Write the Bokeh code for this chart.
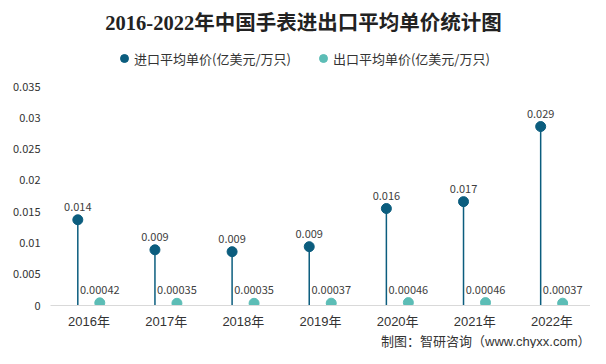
from bokeh.plotting import figure
from bokeh.models import (ColumnDataSource, LabelSet, Label, Legend, LegendItem, Title,
                          Range1d, FactorRange, FixedTicker)
from bokeh.transform import dodge
from bokeh.core.properties import value
from bokeh.embed import file_html
from bokeh.resources import INLINE

# ---- data ----
years = ["2016年", "2017年", "2018年", "2019年", "2020年", "2021年", "2022年"]
import_price = [0.0137, 0.0089, 0.0086, 0.0094, 0.0155, 0.0166, 0.0286]
import_labels = ["0.014", "0.009", "0.009", "0.009", "0.016", "0.017", "0.029"]
export_price = [0.00042, 0.00035, 0.00035, 0.00037, 0.00046, 0.00046, 0.00037]
export_labels = ["0.00042", "0.00035", "0.00035", "0.00037", "0.00046", "0.00046", "0.00037"]
y_ticks = [0, 0.005, 0.01, 0.015, 0.02, 0.025, 0.03, 0.035]
y_tick_labels = ["0", "0.005", "0.01", "0.015", "0.02", "0.025", "0.03", "0.035"]
series_names = ["进口平均单价(亿美元/万只)", "出口平均单价(亿美元/万只)"]
title_text = "2016-2022年中国手表进出口平均单价统计图"
source_text = "制图：智研咨询（www.chyxx.com）"

IMP_COLOR = "#0B5D7E"
EXP_COLOR = "#5CBDB6"
TEXT_COLOR = "#333333"
FONT = "Noto Sans CJK SC"
COMPACT_FONT = "Liberation Sans, Noto Sans CJK SC"

src = ColumnDataSource(dict(year=years, imp=import_price, imp_lbl=import_labels,
                            exp=export_price, exp_lbl=export_labels,
                            zero=[0] * len(years)))

W, H = 590, 348
FRAME_TOP_GAP = 86          # px between figure top and the 0.035 tick
PX = 219.0 / 0.035          # px per unit on the y axis
y_top = 0.035 + FRAME_TOP_GAP / PX

p = figure(width=W, height=H, x_range=FactorRange(*years), y_range=Range1d(0, y_top),
           output_backend="svg", toolbar_location=None, title=None,
           min_border_left=50, min_border_right=0, min_border_top=0, min_border_bottom=43)
p.outline_line_color = None
p.xgrid.grid_line_color = None
p.ygrid.grid_line_color = None
p.background_fill_color = "white"
p.border_fill_color = "white"

# axes
p.yaxis.ticker = FixedTicker(ticks=y_ticks)
p.yaxis.major_label_overrides = dict(zip(y_ticks, y_tick_labels))
p.yaxis.axis_line_color = None
p.yaxis.major_tick_line_color = None
p.yaxis.minor_tick_line_color = None
p.yaxis.major_tick_out = 0
p.yaxis.major_label_standoff = 10
p.yaxis.major_label_text_font = FONT
p.yaxis.major_label_text_font_size = "11px"
p.yaxis.major_label_text_color = TEXT_COLOR

p.xaxis.axis_line_color = "#D9D9D9"
p.xaxis.axis_line_width = 1
p.xaxis.major_tick_line_color = None
p.xaxis.minor_tick_line_color = None
p.xaxis.major_tick_out = 0
p.xaxis.major_tick_in = 0
p.xaxis.major_label_standoff = 8
p.xaxis.major_label_text_font = COMPACT_FONT
p.xaxis.major_label_text_font_size = "13px"
p.xaxis.major_label_text_color = TEXT_COLOR
p.x_range.range_padding = 0

IMP_OFF = -0.146
EXP_OFF = 0.139

xi = dodge("year", IMP_OFF, range=p.x_range)
xe = dodge("year", EXP_OFF, range=p.x_range)

p.segment(x0=xi, y0="zero", x1=xi, y1="imp", source=src, line_color=IMP_COLOR, line_width=1.5)
p.segment(x0=xe, y0="zero", x1=xe, y1="exp", source=src, line_color=EXP_COLOR, line_width=1.5)
r_imp = p.scatter(x=xi, y="imp", source=src, size=10, fill_color=IMP_COLOR, line_color=IMP_COLOR)
r_exp = p.scatter(x=xe, y="exp", source=src, size=10, fill_color=EXP_COLOR, line_color=EXP_COLOR)

for col, xx in (("imp", xi), ("exp", xe)):
    ls = LabelSet(x=xx, y=col, text=col + "_lbl", source=src, y_offset=13,
                  text_align="center", text_baseline="middle",
                  text_font=value(FONT), text_font_size="11px", text_color="#404040")
    p.add_layout(ls)

# title (inside the extended frame, above the 0.035 tick)
CAT_W = 540.0 / len(years)
p.add_layout(Label(x=(303 - 50) / CAT_W, y=(305 - 22) / PX, text=title_text,
                   text_align="center", text_baseline="middle",
                   text_font="Liberation Serif, Noto Sans CJK SC",
                   text_font_size="20.5px", text_font_style="bold", text_color="#222222"))

# legend (screen position relative to the frame's bottom-left corner)
legend = Legend(items=[LegendItem(label=series_names[0], renderers=[r_imp]),
                       LegendItem(label=series_names[1], renderers=[r_exp])],
                orientation="horizontal", location=(64, 305 - 68),
                glyph_width=20, glyph_height=20, label_standoff=0, spacing=22,
                padding=0, margin=0, border_line_color=None, background_fill_alpha=0,
                label_text_font=FONT, label_text_font_size="13px", label_text_color=TEXT_COLOR,
                label_height=20)
p.add_layout(legend, "center")

# source note
src_title = Title(text=source_text, align="right", standoff=0,
                  text_font=COMPACT_FONT, text_font_size="13px", text_font_style="normal",
                  text_color=TEXT_COLOR)
p.add_layout(src_title, "below")

open("out.html", "w").write(file_html(p, INLINE))
